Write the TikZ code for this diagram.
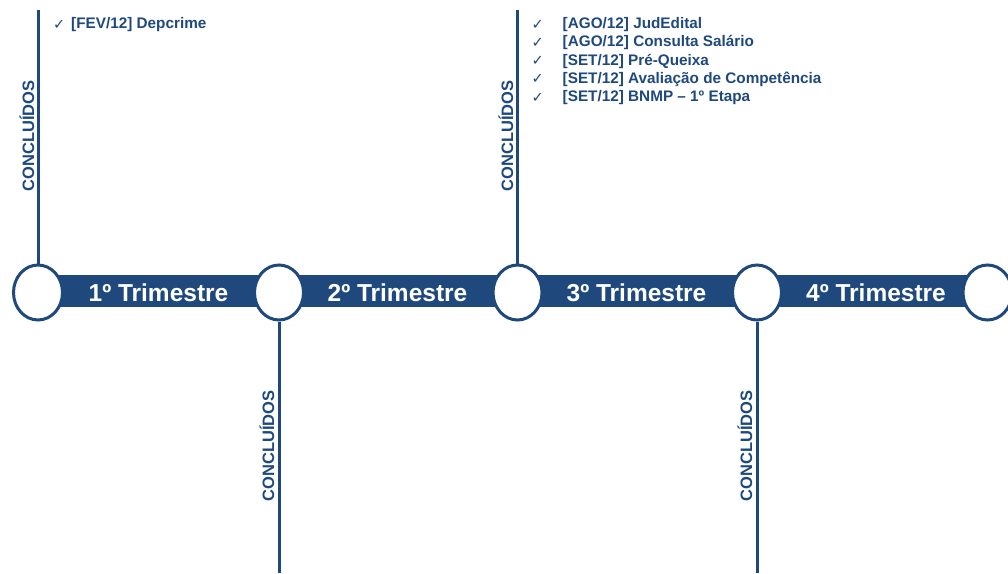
\documentclass[tikz,border=0pt]{standalone}
\usepackage{fontspec}
\setmainfont{Liberation Sans}
\newfontfamily\ckfont{DejaVu Sans}
\usetikzlibrary{shapes.geometric}
\definecolor{navy}{RGB}{31,73,125}
\tikzset{
  x=1pt,y=-1pt,
  station/.style={ellipse,draw=navy,line width=3pt,fill=white,minimum width=49pt,minimum height=55pt,inner sep=0pt},
  stem/.style={draw=navy,line width=3pt},
  quarter/.style={text=white,font=\fontsize{24.5}{29}\selectfont\bfseries,inner sep=0pt},
  done/.style={text=navy,font=\fontsize{16.5}{19}\selectfont\bfseries,rotate=90,inner sep=0pt},
  item/.style={text=navy,font=\fontsize{15.3}{18}\selectfont\bfseries,anchor=base west,inner sep=0pt}
}
\newcommand{\ckmark}[1]{\makebox[#1][l]{\ckfont\fontsize{14.5}{16}\selectfont\raisebox{-0.5pt}{✓}}}
\begin{document}
\begin{tikzpicture}
\useasboundingbox (0,0) rectangle (1008,573);
\fill[navy] (38,274.5) rectangle (987.5,306.5);
\node[station] (c1) at (38,292.5) {};
\node[station] (c2) at (279,292.5) {};
\node[station] (c3) at (517.5,292.5) {};
\node[station] (c4) at (757,292.5) {};
\node[station] (c5) at (987.5,292.5) {};
\coordinate (t1) at (38,10);
\coordinate (t3) at (517.5,10);
\coordinate (b2) at (279,573);
\coordinate (b4) at (757,573);
\draw[stem] (c1) -- (t1);
\draw[stem] (c3) -- (t3);
\draw[stem] (c2) -- (b2);
\draw[stem] (c4) -- (b4);
\node[quarter] (q1) at (158.5,292.5) {1º Trimestre};
\node[quarter] (q2) at (397.5,292.5) {2º Trimestre};
\node[quarter] (q3) at (636.5,292.5) {3º Trimestre};
\node[quarter] (q4) at (876,292.5) {4º Trimestre};
\node[done] (d1) at (27,136) {CONCLUÍDOS};
\node[done] (d3) at (506,136) {CONCLUÍDOS};
\node[done] (d2) at (267,446) {CONCLUÍDOS};
\node[done] (d4) at (745,446) {CONCLUÍDOS};
\node[item] (i1) at (53,28.5) {\ckmark{18pt}[FEV/12] Depcrime};
\node[item] (i2) at (531.5,28.5) {\ckmark{31pt}[AGO/12] JudEdital};
\node[item] (i3) at (531.5,46.8) {\ckmark{31pt}[AGO/12] Consulta Salário};
\node[item] (i4) at (531.5,65.1) {\ckmark{31pt}[SET/12] Pré-Queixa};
\node[item] (i5) at (531.5,83.4) {\ckmark{31pt}[SET/12] Avaliação de Competência};
\node[item] (i6) at (531.5,101.7) {\ckmark{31pt}[SET/12] BNMP – 1º Etapa};
\end{tikzpicture}
\end{document}
